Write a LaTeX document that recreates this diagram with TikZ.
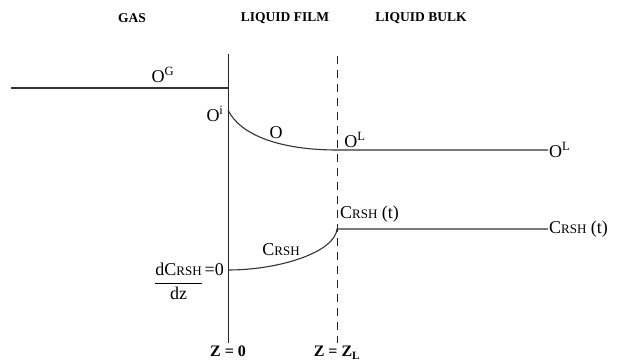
\documentclass[tikz,border=0pt]{standalone}
\usepackage{fontspec}
\setmainfont{Liberation Serif}
\usetikzlibrary{positioning}

\newcommand{\sml}[1]{{\fontsize{13}{13}\selectfont #1}}

\begin{document}
\begin{tikzpicture}[x=1pt, y=-1pt,
    lbl/.style={inner sep=1pt, font=\fontsize{18}{18}\selectfont},
    head/.style={inner sep=1pt, font=\bfseries\fontsize{13.5}{13.5}\selectfont},
    zlbl/.style={head, font=\bfseries\fontsize{16}{16}\selectfont},
    prof/.style={line width=1.1pt, black!80},
    bound/.style={line width=0.9pt, black!85},
  ]
    \useasboundingbox (0,0) rectangle (630,363);

    % phase headings
    \node[head] (gas)  at (132,18) {GAS};
    \node[head] (film) at (285,18) {LIQUID FILM};
    \node[head] (bulk) at (421,18) {LIQUID BULK};

    % interface and film edge
    \coordinate (ifTop) at (228,54);
    \coordinate (ifBot) at (228,343);
    \coordinate (zlTop) at (337,56);
    \coordinate (zlBot) at (337,343);
    \draw[bound] (ifTop) -- (ifBot);
    \draw[bound, dash pattern=on 8pt off 6pt] (zlTop) -- (zlBot);
    \node[zlbl, below=2pt of ifBot] (z0) {Z = 0};
    \node[zlbl, below=2pt of zlBot] (zl) {Z = Z\textsubscript{L}};

    % oxygen profile
    \coordinate (gasL) at (11,88);
    \coordinate (oi)   at (228,110);
    \coordinate (oz)   at (337,150);
    \coordinate (oend) at (548,150);
    \draw[prof] (gasL) -- (gasL -| ifTop);
    \draw[prof] (oi) .. controls (240,135) and (280,150) .. (oz) -- (oend);
    \node[lbl] (oG)  at (163,75)  {O\textsuperscript{G}};
    \node[lbl] (oI)  at (215,114) {O\textsuperscript{i}};
    \node[lbl] (oC)  at (276,133) {O};
    \node[lbl] (oL)  at (355,140) {O\textsuperscript{L}};
    \node[lbl, right=0pt of oend] (oLend) {O\textsuperscript{L}};

    % RSH profile
    \coordinate (ci)   at (228,270);
    \coordinate (cz)   at (337,229);
    \coordinate (cend) at (548,229);
    \draw[prof] (ci) .. controls (280,270) and (335,252) .. (cz) -- (cend);
    \node[lbl] (cC)  at (281,250) {C\sml{RSH}};
    \node[lbl, anchor=south west] (cZl) at (339,224) {C\sml{RSH} (t)};
    \node[lbl, right=0pt of cend] (cEnd) {C\sml{RSH} (t)};
    \node[lbl, anchor=east] (dcdz) at (225,284)
      {\begin{tabular}{@{}c@{}l@{}}dC\sml{RSH} & \,=0\\[2pt]\cline{1-1}
       \rule{0pt}{17pt}dz & \end{tabular}};
\end{tikzpicture}
\end{document}
